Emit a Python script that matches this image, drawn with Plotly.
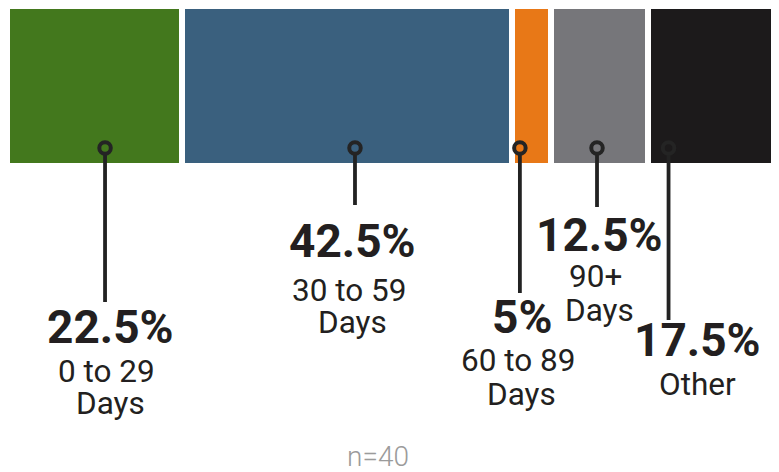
import plotly.graph_objects as go

# ---- data ----
categories = ["0 to 29 Days", "30 to 59 Days", "60 to 89 Days", "90+ Days", "Other"]
values = [22.5, 42.5, 5, 12.5, 17.5]
sample_n = 40

# ---- styles / layout ----
colors = ["#43781d", "#3a607e", "#e87817", "#76767a", "#1c1a1b"]
ink = "#231f20"
# leader/label placement (x in percent units, y in pixels from top of figure)
leader_x = [12.59, 44.77, 66.0, 75.93, 85.14]
leader_end = [294, 197, 285, 199, 312]
label_x = [13.29, 44.48, 66.24, 76.19, 88.87]
pct_base = [335.3, 249.3, 325.3, 243.7, 348.7]
line1_base = [375.8, 294.8, 364.3, 280.3, 388.7]
line2_base = [407.3, 326.3, 398.7, 314.7, None]
RING_Y = 140
BAR_Y = 78
BAR_H = 160

W, H = 771, 464
fig = go.Figure()

for cat, v, c in zip(categories, values, colors):
    fig.add_trace(go.Bar(
        x=[v], y=[BAR_Y], orientation="h", width=BAR_H, name=cat,
        marker=dict(color=c, line=dict(color="white", width=6)),
        hoverinfo="skip", showlegend=False,
    ))

for lx, le in zip(leader_x, leader_end):
    fig.add_trace(go.Scatter(
        x=[lx, lx], y=[RING_Y + 6, le], mode="lines",
        line=dict(color="#222222", width=3.8), hoverinfo="skip", showlegend=False,
    ))
    fig.add_trace(go.Scatter(
        x=[lx], y=[RING_Y], mode="markers",
        marker=dict(symbol="circle-open", size=11.5, color="#242424",
                    line=dict(width=4, color="#242424")),
        hoverinfo="skip", showlegend=False,
    ))


def add_text(x, baseline, text, size, weight, color, xref="x"):
    fig.add_annotation(
        x=x, y=baseline + 0.244 * size + 1, xref=xref, yref="y",
        text=text, showarrow=False, xanchor="center", yanchor="bottom",
        font=dict(family="Roboto", size=size, weight=weight, color=color),
    )


for i, (cat, v) in enumerate(zip(categories, values)):
    add_text(label_x[i], pct_base[i], f"{v:g}%", 46, 700, ink)
    if cat.endswith(" Days"):
        lines = [cat[: -len(" Days")] + "\u00a0", "Days"]
    else:
        lines = [cat]
    add_text(label_x[i], line1_base[i], lines[0], 31.5, 400, ink)
    if len(lines) > 1:
        add_text(label_x[i], line2_base[i], lines[1], 31.5, 400, ink)

# sample-size note (paper-referenced so it is drawn near the bottom edge)
n_size = 28
fig.add_annotation(
    x=370 / W, y=1 - (459 + 0.244 * n_size + 1) / H, xref="paper", yref="paper",
    text=f"n={sample_n}", showarrow=False, xanchor="center", yanchor="bottom",
    font=dict(family="Roboto", size=n_size, weight=300, color="#9b9b9b"),
)

fig.update_layout(
    width=W, height=H, autosize=False,
    margin=dict(l=0, r=0, t=0, b=0),
    paper_bgcolor="white", plot_bgcolor="white",
    barmode="stack", bargap=0,
    xaxis=dict(range=[0.0966, 99.36], visible=False, fixedrange=True),
    yaxis=dict(range=[H, 0], visible=False, fixedrange=True),
)

fig.write_html("out.html")
